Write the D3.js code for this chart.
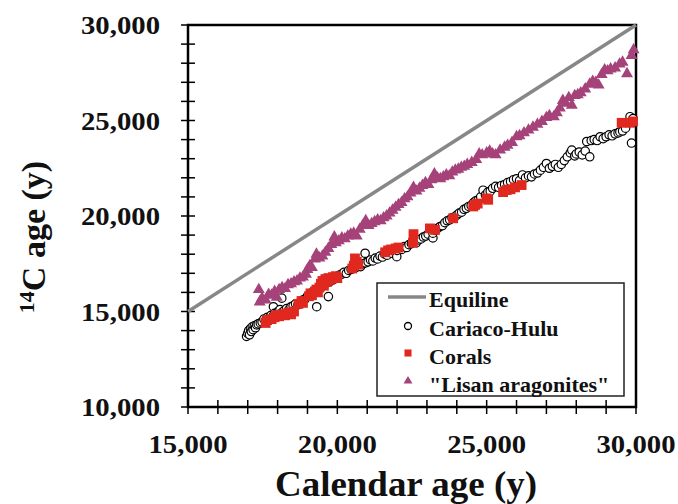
<!DOCTYPE html>
<html><head><meta charset="utf-8">
<script src="https://cdn.jsdelivr.net/npm/d3@7/dist/d3.min.js"></script>
<style>body{margin:0;background:#fff}svg{display:block}text{font-family:"Liberation Serif","Times New Roman",serif;font-weight:bold;fill:#111}</style>
</head><body><svg id="c" width="678" height="504"></svg>
<script>
const xTicks = [15000, 20000, 25000, 30000];
const yTicks = [10000, 15000, 20000, 25000, 30000];
const equiline = [[15000, 15000], [30000, 30000]];
const seriesNames = ["Equiline", "Cariaco-Hulu", "Corals", "\"Lisan aragonites\""];
const xLabel = "Calendar age (y)";

const cariacoHulu = [[16960,13700],[17000,13850],[17030,14000],[17060,13780],[17090,14100],[17120,13950],[17150,14200],[17180,14050],[17220,14250],[17260,14150],[17300,14300],[17350,14350],[17420,14400],[17480,14450],[17540,14600],[17600,14550],[17660,14700],[17720,14650],[17780,14800],[17840,14750],[17860,15250],[17900,14900],[17960,14850],[18020,15000],[18080,15100],[18140,15700],[18150,14950],[18220,15050],[18300,15150],[18380,15100],[18450,15250],[18520,15300],[18600,15400],[18680,15350],[18760,15500],[18840,15600],[18920,15650],[19000,15800],[19080,15850],[19160,16000],[19240,16050],[19310,15250],[19320,16150],[19400,16250],[19480,16300],[19560,16400],[19650,16500],[19700,15780],[19740,16550],[19820,16650],[19900,16700],[19980,16800],[20060,16900],[20140,16950],[20220,17050],[20300,17000],[20380,17150],[20460,17200],[20540,17250],[20620,17300],[20700,17400],[20780,17350],[20860,17500],[20930,18050],[20950,17550],[21030,17600],[21110,17700],[21190,17650],[21270,17800],[21350,17750],[21430,17900],[21510,17850],[21590,18000],[21670,17950],[21750,18100],[21830,18050],[21910,18200],[21990,17870],[22000,18200],[22080,18300],[22160,18250],[22240,18400],[22320,18350],[22400,18500],[22480,18550],[22560,18650],[22640,18600],[22720,18750],[22800,18800],[22880,18900],[22960,18950],[23040,19050],[23200,18850],[23200,19100],[23280,19250],[23360,19350],[23440,19450],[23520,19500],[23600,19650],[23680,19750],[23760,19800],[23840,19900],[23920,19950],[24000,20050],[24080,20150],[24160,20200],[24240,20350],[24320,20400],[24400,20500],[24480,20550],[24560,20700],[24640,20800],[24720,20850],[24800,21000],[24880,21350],[24960,21100],[25040,21250],[25120,21300],[25200,21450],[25300,21550],[25400,21500],[25500,21600],[25600,21650],[25700,21750],[25800,21800],[25900,21900],[26000,21950],[26100,21850],[26200,22150],[26300,22000],[26400,22100],[26500,22050],[26600,22200],[26700,22250],[26800,22400],[26900,22550],[27000,22750],[27100,22500],[27200,22600],[27300,22700],[27400,22550],[27500,22700],[27600,22900],[27700,23100],[27800,23300],[27850,23450],[27950,23150],[28000,23250],[28100,23350],[28200,23200],[28300,23400],[28350,23900],[28450,23100],[28500,23950],[28600,24000],[28700,23950],[28800,24150],[28900,24050],[29000,24150],[29100,24250],[29200,24200],[29300,24300],[29400,24350],[29460,24400],[29550,24450],[29650,24600],[29750,24900],[29800,25200],[29850,23820],[29900,25100]];

const corals = [[17600,14400],[17650,14550],[17800,14600],[17900,14700],[17950,14800],[18050,14750],[18150,14850],[18250,14800],[18300,14900],[18400,14950],[18450,14850],[18550,15000],[18700,15400],[18800,15550],[18850,15450],[19050,15800],[19100,15950],[19150,15850],[19250,16050],[19300,16150],[19350,16000],[19400,16250],[19450,16450],[19500,16600],[19550,16350],[19600,16700],[19650,16550],[19700,16750],[19750,16650],[19850,16800],[19950,16850],[20000,16750],[20500,17250],[20550,17400],[20590,17780],[20650,17600],[20700,17450],[21600,18100],[21700,18200],[21800,18250],[21950,18300],[22050,18350],[22530,18600],[22550,19050],[23100,19350],[23270,19270],[23880,19880],[24550,20500],[24610,20580],[24700,20650],[25000,20920],[25050,20850],[25550,21250],[25670,21360],[25800,21400],[25950,21500],[26170,21620],[29520,24880],[29800,24880],[29900,24950]];

const lisan = [[17370,16150],[17400,15500],[17480,15700],[17600,15600],[17700,15900],[17800,15850],[17900,16050],[17970,15750],[18050,16150],[18150,16250],[18250,16200],[18350,16400],[18450,16450],[18550,16550],[18650,16600],[18750,16750],[18850,16800],[18950,16950],[19000,17200],[19080,17400],[19150,17300],[19250,17750],[19300,18000],[19400,17800],[19500,17900],[19600,18100],[19700,18300],[19800,18500],[19900,18900],[19950,18600],[20050,18700],[20150,18850],[20250,18800],[20350,18950],[20450,19050],[20550,19100],[20650,18950],[20750,19300],[20850,19500],[20950,19750],[21050,19500],[21150,19600],[21250,19700],[21350,19800],[21450,19750],[21550,19900],[21650,20000],[21750,20150],[21850,20300],[21950,20450],[22050,20600],[22150,20700],[22250,20900],[22350,21000],[22450,21200],[22550,21500],[22650,21300],[22750,21450],[22850,21600],[22950,21750],[23050,21650],[23150,21900],[23250,22200],[23350,22000],[23450,21950],[23550,22050],[23650,22150],[23750,22100],[23850,22300],[23950,22400],[24050,22450],[24150,22550],[24250,22600],[24350,22700],[24500,22800],[24650,22950],[24750,23250],[24850,23200],[25000,23300],[25100,23400],[25200,23250],[25300,23200],[25450,23450],[25600,23600],[25700,23700],[25850,23850],[26000,24150],[26100,24200],[26250,24350],[26400,24500],[26550,24650],[26700,24800],[26850,24950],[27000,25150],[27100,25250],[27250,25200],[27350,25400],[27450,25650],[27550,26050],[27650,25900],[27750,26200],[27850,25800],[27950,26300],[28050,26350],[28150,26450],[28300,26650],[28450,26900],[28550,27050],[28650,27000],[28750,26850],[28850,27400],[28950,27650],[29050,27600],[29150,27700],[29300,27750],[29450,27950],[29550,28050],[29700,27450],[29850,28400],[29920,28700]];

const svg = d3.select("#c");
const x = d3.scaleLinear().domain([15000, 30000]).range([188, 636]);
const y = d3.scaleLinear().domain([10000, 30000]).range([407, 25]);
const fmt = d3.format(",");
const tri = d3.symbol().type(d3.symbolTriangle).size(62);
const sq = d3.symbol().type(d3.symbolSquare).size(96);

// ticks (crossing axis)
const minorX = d3.range(15000, 30001, 1000);
const minorY = d3.range(10000, 30001, 1000);
svg.append("g").selectAll("line").data(minorX).join("line")
  .attr("x1", d => x(d)).attr("x2", d => x(d)).attr("y1", y(10000) - 7).attr("y2", y(10000) + 7)
  .attr("stroke", "#000").attr("stroke-width", 1.5);
svg.append("g").selectAll("line").data(minorY).join("line")
  .attr("y1", d => y(d)).attr("y2", d => y(d)).attr("x1", x(15000) - 7).attr("x2", x(15000) + 7)
  .attr("stroke", "#000").attr("stroke-width", 1.5);

// frame
svg.append("rect").attr("x", x(15000)).attr("y", y(30000))
  .attr("width", x(30000) - x(15000)).attr("height", y(10000) - y(30000))
  .attr("fill", "none").attr("stroke", "#000").attr("stroke-width", 2.5);

// tick labels
svg.append("g").selectAll("text").data(xTicks).join("text")
  .attr("x", d => x(d)).attr("y", 453).attr("text-anchor", "middle")
  .attr("font-size", 26).attr("textLength", 79).attr("lengthAdjust", "spacingAndGlyphs")
  .text(d => fmt(d));
svg.append("g").selectAll("text").data(yTicks).join("text")
  .attr("x", 160).attr("y", d => y(d) + 9).attr("text-anchor", "end")
  .attr("font-size", 26).attr("textLength", 79).attr("lengthAdjust", "spacingAndGlyphs")
  .text(d => fmt(d));

// axis titles
svg.append("text").attr("x", 406).attr("y", 496).attr("text-anchor", "middle")
  .attr("font-size", 36).attr("textLength", 262).attr("lengthAdjust", "spacingAndGlyphs").text(xLabel);
const yl = svg.append("text").attr("transform", "translate(45,237) rotate(-90)")
  .attr("text-anchor", "middle").attr("font-size", 34);
yl.append("tspan").attr("font-size", 22).attr("dy", -11).text("14");
yl.append("tspan").attr("dy", 11).text("C age (y)");

// equiline
svg.append("line").attr("x1", x(equiline[0][0])).attr("y1", y(equiline[0][1]))
  .attr("x2", x(equiline[1][0])).attr("y2", y(equiline[1][1]))
  .attr("stroke", "#878787").attr("stroke-width", 3.5);

// data
svg.append("g").selectAll("circle").data(cariacoHulu).join("circle")
  .attr("cx", d => x(d[0])).attr("cy", d => y(d[1])).attr("r", 4.2)
  .attr("fill", "#fff").attr("stroke", "#000").attr("stroke-width", 1.2);
svg.append("g").selectAll("path").data(corals).join("path")
  .attr("d", sq).attr("transform", d => `translate(${x(d[0])},${y(d[1])})`)
  .attr("fill", "#e0281f");
svg.append("g").selectAll("path").data(lisan).join("path")
  .attr("d", tri).attr("transform", d => `translate(${x(d[0])},${y(d[1])})`)
  .attr("fill", "#a6427a");

// legend
const lg = svg.append("g");
lg.append("rect").attr("x", 377).attr("y", 283).attr("width", 247).attr("height", 113)
  .attr("fill", "#fff").attr("stroke", "#222").attr("stroke-width", 1.5);
lg.append("line").attr("x1", 388).attr("x2", 426).attr("y1", 297).attr("y2", 297)
  .attr("stroke", "#878787").attr("stroke-width", 3.5);
lg.append("circle").attr("cx", 408).attr("cy", 326).attr("r", 3.5)
  .attr("fill", "#fff").attr("stroke", "#000").attr("stroke-width", 1.3);
lg.append("path").attr("d", d3.symbol().type(d3.symbolSquare).size(50)).attr("transform", "translate(408,353)").attr("fill", "#e0281f");
lg.append("path").attr("d", d3.symbol().type(d3.symbolTriangle).size(34)).attr("transform", "translate(408,381)").attr("fill", "#a6427a");
const lys = [307, 336, 364, 392];
lg.selectAll("text.l").data(seriesNames).join("text").attr("class", "l")
  .attr("x", 429).attr("y", (d, i) => lys[i]).attr("font-size", 22).text(d => d);
</script></body></html>
